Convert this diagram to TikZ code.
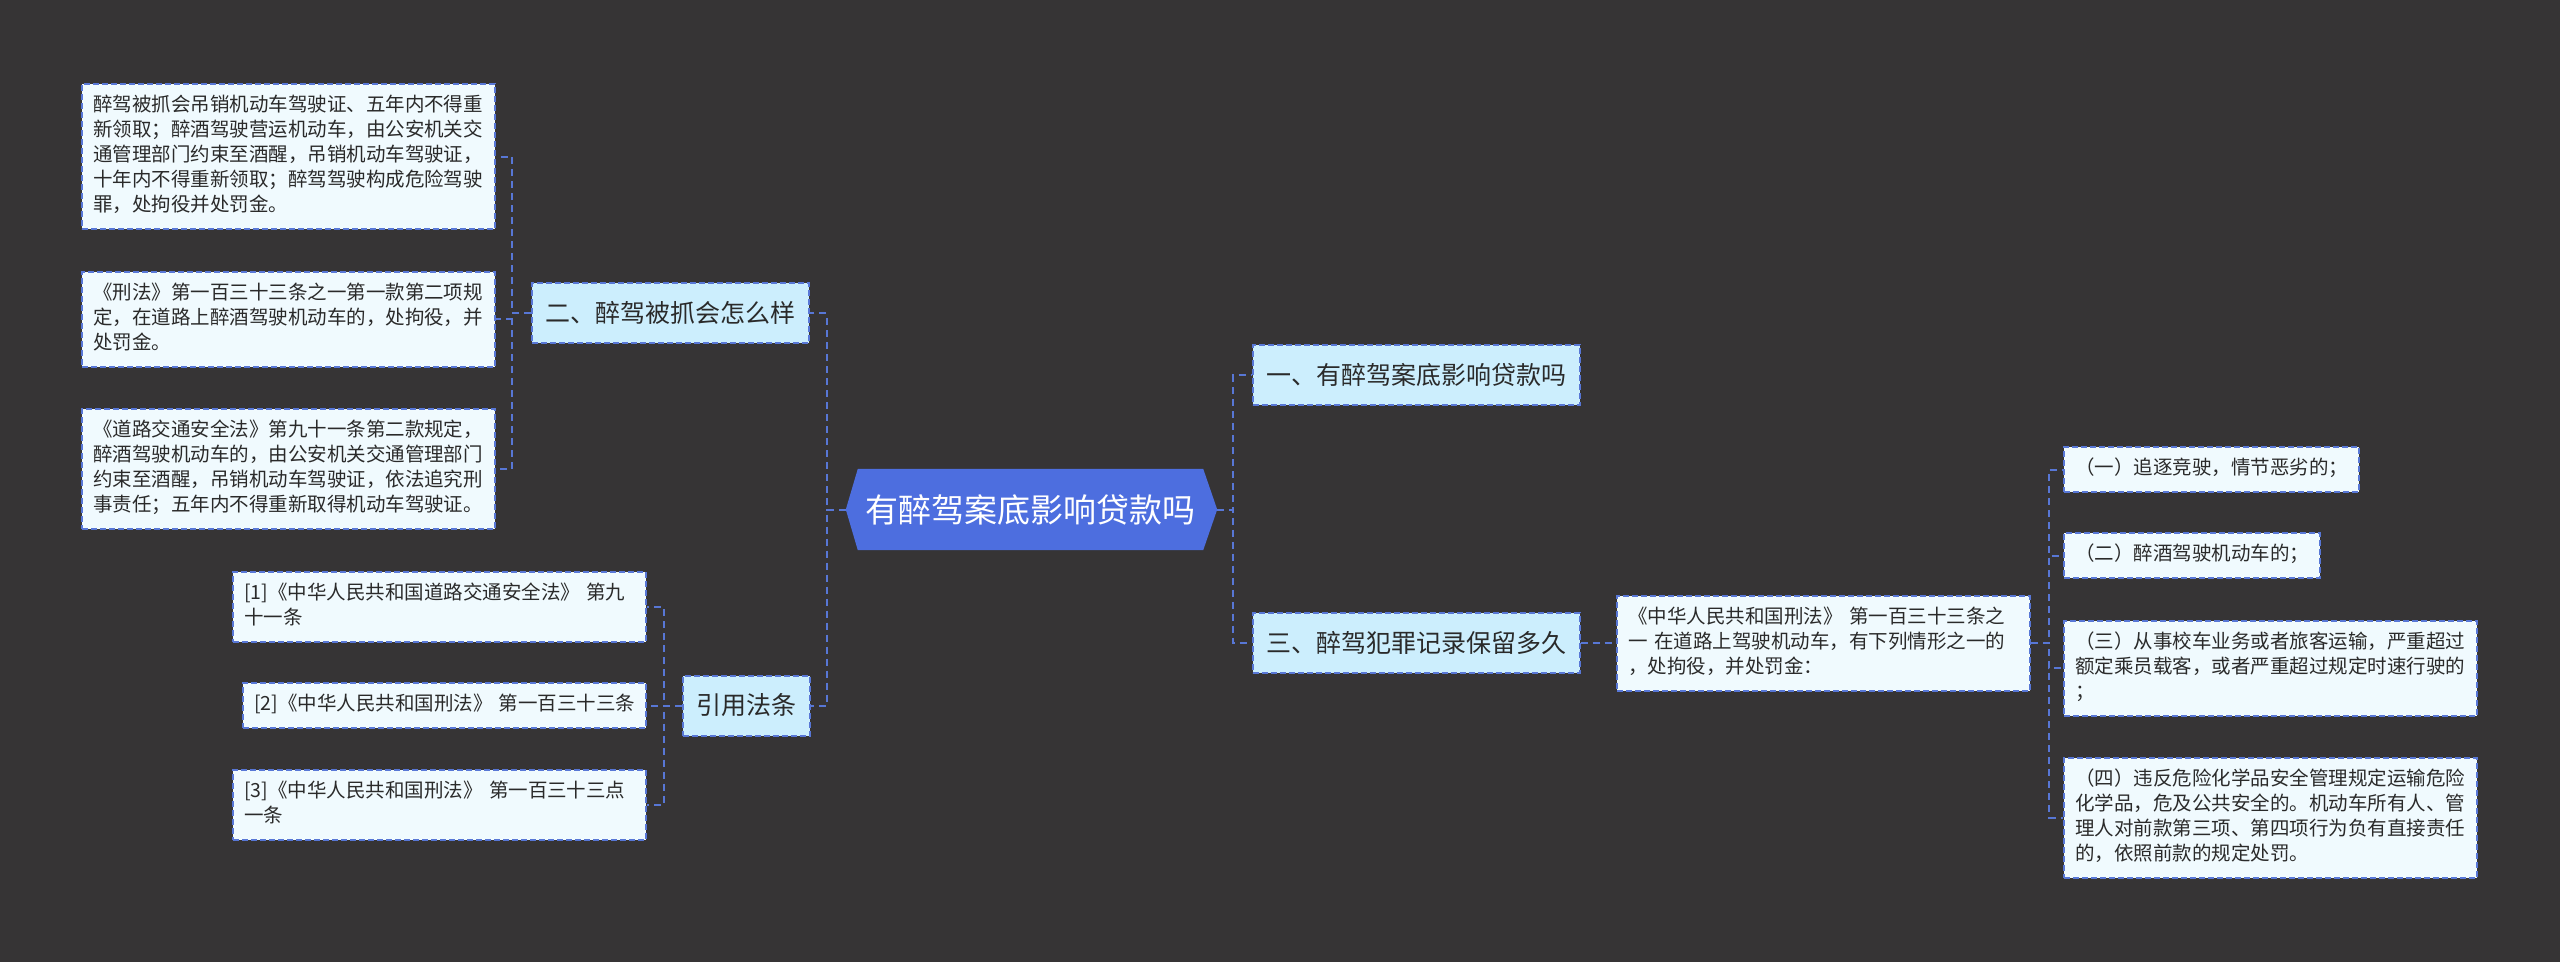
\documentclass[tikz,border=0pt]{standalone}
\usepackage{fontspec}
\setmainfont{Noto Sans CJK SC}
\usetikzlibrary{backgrounds}
\definecolor{MapBg}{HTML}{363435}
\definecolor{MapLine}{HTML}{5877D6}
\definecolor{RootBlue}{HTML}{4D6EDF}
\definecolor{TopicFill}{HTML}{CCEEFD}
\definecolor{LeafFill}{HTML}{F0FAFE}
\definecolor{InkDark}{HTML}{2A2A2A}

\begin{document}
\begin{tikzpicture}[x=1pt,y=-1pt,
                    every node/.style={text=InkDark},
                    topic/.style={draw=MapLine, dash pattern=on 6pt off 3pt, line width=2pt,
                                  fill=TopicFill, font=\fontsize{25}{30}\selectfont,
                                  text height=21pt, text depth=3pt, inner xsep=13.5pt, inner ysep=18pt},
                    leaf/.style={draw=MapLine, dash pattern=on 6pt off 3pt, line width=2pt,
                                 fill=LeafFill, font=\fontsize{19.5}{25}\selectfont, align=left,
                                 text width=391pt, inner xsep=11pt, inner ysep=10pt,
                                 execute at begin node=\strut, execute at end node=\strut},
                    rootnode/.style={text=white, font=\fontsize{33}{40}\selectfont,
                                     minimum width=345pt, minimum height=81pt, inner sep=0pt},
                    link/.style={draw=MapLine, line width=2pt, dash pattern=on 7pt off 5pt}]
\useasboundingbox (0,0) rectangle (2560,962);

% centre
\node[rootnode] (root) at (1030.5,509.5) {有醉驾案底影响贷款吗};
\coordinate (rootL) at ([xshift=-12pt]root.west);
\coordinate (rootR) at ([xshift=14pt]root.east);

% left side
\node[topic] (n2) at (670.5,313) {二、醉驾被抓会怎么样};
\node[leaf, anchor=east] (L1) at (496,156.5) {醉驾被抓会吊销机动车驾驶证、五年内不得重\\新领取；醉酒驾驶营运机动车，由公安机关交\\通管理部门约束至酒醒，吊销机动车驾驶证，\\十年内不得重新领取；醉驾驾驶构成危险驾驶\\罪，处拘役并处罚金。};
\node[leaf, anchor=east] (L2) at (496,319) {《刑法》第一百三十三条之一第一款第二项规\\定，在道路上醉酒驾驶机动车的，处拘役，并\\处罚金。};
\node[leaf, anchor=east] (L3) at (496,469) {《道路交通安全法》第九十一条第二款规定，\\醉酒驾驶机动车的，由公安机关交通管理部门\\约束至酒醒，吊销机动车驾驶证，依法追究刑\\事责任；五年内不得重新取得机动车驾驶证。};

\node[topic] (cite) at (746,705.5) {引用法条};
\node[leaf, anchor=east] (R1) at (647,606.5) {[1]《中华人民共和国道路交通安全法》 第九\\十一条};
\node[leaf, anchor=east, text width=381pt] (R2) at (647,705.5) {\mbox{[2]《中华人民共和国刑法》 第一百三十三条}};
\node[leaf, anchor=east] (R3) at (647,805) {[3]《中华人民共和国刑法》 第一百三十三点\\一条};

% right side
\node[topic] (n1) at (1416,375) {一、有醉驾案底影响贷款吗};
\node[topic] (n3) at (1416,643) {三、醉驾犯罪记录保留多久};
\node[leaf, anchor=west] (law) at (1616,643) {《中华人民共和国刑法》 第一百三十三条之\\一 在道路上驾驶机动车，有下列情形之一的\\，处拘役，并处罚金：};
\node[leaf, anchor=west, text width=273pt] (I1) at (2063,469.5) {（一）追逐竞驶，情节恶劣的；};
\node[leaf, anchor=west, text width=234pt] (I2) at (2063,555.5) {（二）醉酒驾驶机动车的；};
\node[leaf, anchor=west] (I3) at (2063,668) {（三）从事校车业务或者旅客运输，严重超过\\额定乘员载客，或者严重超过规定时速行驶的\\；};
\node[leaf, anchor=west] (I4) at (2063,817.5) {（四）违反危险化学品安全管理规定运输危险\\化学品，危及公共安全的。机动车所有人、管\\理人对前款第三项、第四项行为负有直接责任\\的，依照前款的规定处罚。};

\begin{scope}[on background layer]
\fill[MapBg] (0,0) rectangle (2560,962);
\fill[RootBlue] (rootL) -- (root.north west) -- (root.north east) -- (rootR)
  -- (root.south east) -- (root.south west) -- cycle;
\end{scope}

% connectors
\draw[link] (rootL) -- ++(-19,0) |- (n2.east);
\draw[link] (rootL) -- ++(-19,0) |- (cite.east);
\draw[link] (rootR) -- ++(16,0) |- (n1.west);
\draw[link] (rootR) -- ++(16,0) |- (n3.west);
\draw[link] (n2.west) -- ++(-19,0) |- (L1.east);
\draw[link] (n2.west) -- ++(-19,0) |- (L2.east);
\draw[link] (n2.west) -- ++(-19,0) |- (L3.east);
\draw[link] (cite.west) -- ++(-18,0) |- (R1.east);
\draw[link] (cite.west) -- ++(-18,0) |- (R2.east);
\draw[link] (cite.west) -- ++(-18,0) |- (R3.east);
\draw[link] (n3.east) -- (law.west);
\draw[link] (law.east) -- ++(18,0) |- (I1.west);
\draw[link] (law.east) -- ++(18,0) |- (I2.west);
\draw[link] (law.east) -- ++(18,0) |- (I3.west);
\draw[link] (law.east) -- ++(18,0) |- (I4.west);
\end{tikzpicture}
\end{document}
